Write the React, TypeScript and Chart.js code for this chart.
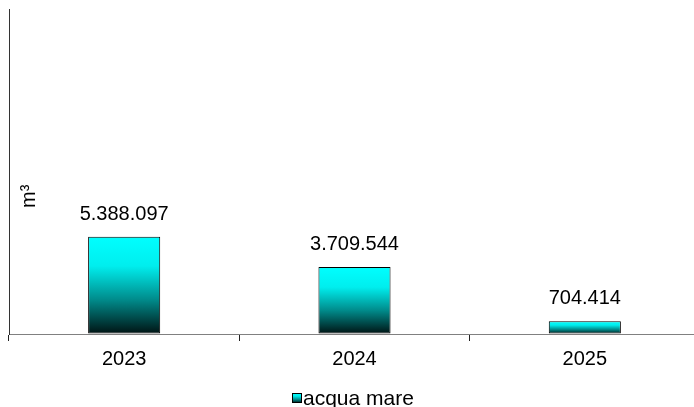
import { useEffect, useRef } from "react";
import { Chart, registerables } from "chart.js";

Chart.register(...registerables);

const categories = ["2023", "2024", "2025"];
const seriesName = "acqua mare";
const values = [5388097, 3709544, 704414];
const yAxisTitle = "m³";
const yMin = 0;
const yMax = 18000000;

const FONT = "'Liberation Sans', Arial, sans-serif";

function fmt(v: number): string {
  return Math.round(v).toString().replace(/\B(?=(\d{3})+(?!\d))/g, ".");
}

function makeGradient(ctx: CanvasRenderingContext2D, top: number, bottom: number) {
  const g = ctx.createLinearGradient(0, top, 0, bottom);
  g.addColorStop(0, "#00ffff");
  g.addColorStop(0.3, "#00eeee");
  g.addColorStop(0.65, "#008a8a");
  g.addColorStop(1, "#001212");
  return g;
}

const overlayPlugin = {
  id: "overlay",
  afterDatasetsDraw(chart: any) {
    const ctx: CanvasRenderingContext2D = chart.ctx;
    const meta = chart.getDatasetMeta(0);
    ctx.save();
    // value labels
    ctx.font = `20px ${FONT}`;
    ctx.fillStyle = "#000";
    ctx.textAlign = "center";
    ctx.textBaseline = "alphabetic";
    meta.data.forEach((bar: any, i: number) => {
      ctx.fillText(fmt(values[i]), bar.x, bar.y - 17);
    });
    // y axis title
    ctx.save();
    ctx.translate(35, 208);
    ctx.rotate(-Math.PI / 2);
    ctx.textAlign = "left";
    ctx.font = `20px ${FONT}`;
    ctx.fillText(yAxisTitle, 0, 0);
    ctx.restore();
    // legend
    const bx = 292;
    const by = 393;
    const bs = 10;
    ctx.fillStyle = makeGradient(ctx, by, by + bs);
    ctx.fillRect(bx, by, bs, bs);
    ctx.strokeStyle = "#000";
    ctx.lineWidth = 1;
    ctx.strokeRect(bx + 0.5, by + 0.5, bs - 1, bs - 1);
    ctx.fillStyle = "#000";
    ctx.textAlign = "left";
    ctx.font = `21px ${FONT}`;
    ctx.fillText(seriesName, bx + bs + 1, 405);
    ctx.restore();
  },
};

export default function App() {
  const ref = useRef<HTMLCanvasElement | null>(null);

  useEffect(() => {
    if (!ref.current) return;
    const chart = new Chart(ref.current, {
      type: "bar",
      data: {
        labels: categories,
        datasets: [
          {
            label: seriesName,
            data: values,
            backgroundColor: (c: any) => {
              const ch = c.chart;
              const y = ch.scales && ch.scales.y;
              if (!y || !ch.chartArea || c.parsed == null) return "#00ffff";
              const top = y.getPixelForValue(c.parsed.y);
              const bottom = y.getPixelForValue(0);
              return makeGradient(ch.ctx, top, bottom);
            },
            borderColor: "#000",
            borderWidth: 1,
            borderSkipped: false,
            categoryPercentage: 1,
            barPercentage: 0.313,
          },
        ],
      },
      options: {
        responsive: false,
        animation: false,
        devicePixelRatio: 1,
        layout: { padding: { left: 0, top: 9, right: 0, bottom: 0 } },
        plugins: {
          legend: { display: false },
          tooltip: { enabled: false },
        },
        scales: {
          x: {
            offset: true,
            grid: {
              offset: true,
              drawOnChartArea: false,
              drawTicks: true,
              tickLength: 7,
              color: "#222",
            },
            border: { color: "#808080" },
            ticks: {
              font: { family: FONT, size: 20 },
              color: "#000",
              padding: 6,
            },
            afterFit: (s: any) => {
              s.height = 73;
            },
          },
          y: {
            min: yMin,
            max: yMax,
            ticks: { display: false },
            grid: { drawOnChartArea: false, drawTicks: false },
            border: { color: "#333" },
            afterFit: (s: any) => {
              s.width = 9;
            },
          },
        },
      },
      plugins: [overlayPlugin],
    } as any);
    return () => chart.destroy();
  }, []);

  return (
    <div
      style={{
        position: "fixed",
        left: 0,
        top: 0,
        width: 694,
        height: 407,
        overflow: "hidden",
        background: "#fff",
      }}
    >
      <canvas ref={ref} width={700} height={407} style={{ display: "block" }} />
    </div>
  );
}
